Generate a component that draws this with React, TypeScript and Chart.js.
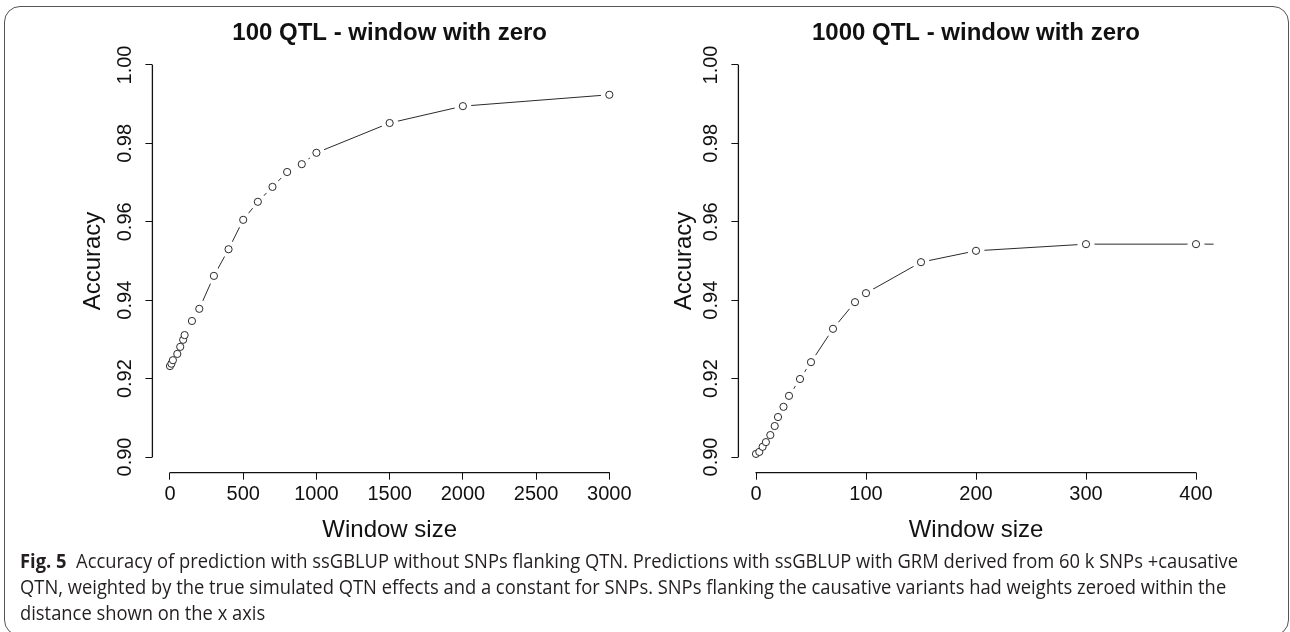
import React, { useEffect, useLayoutEffect, useRef, useState } from "react";
import { Chart, registerables } from "chart.js";

Chart.register(...registerables);

// ---------- data ----------
const LEFT_TITLE = "100 QTL - window with zero";
const RIGHT_TITLE = "1000 QTL - window with zero";
const X_LABEL = "Window size";
const Y_LABEL = "Accuracy";

const LEFT_WINDOW = [0, 10, 20, 50, 70, 90, 100, 150, 200, 300, 400, 500, 600, 700, 800, 900, 1000, 1500, 2000, 3000];
const LEFT_ACCURACY = [0.9232, 0.9238, 0.9247, 0.9263, 0.9281, 0.9299, 0.9311, 0.9347, 0.9378, 0.9462, 0.953, 0.9605, 0.9651, 0.9689, 0.9727, 0.9747, 0.9776, 0.9852, 0.9895, 0.9924];

const RIGHT_WINDOW = [0, 3, 6, 9, 13, 17, 20, 25, 30, 40, 50, 70, 90, 100, 150, 200, 300, 400, 500];
const RIGHT_ACCURACY = [0.9008, 0.9013, 0.9026, 0.9038, 0.9056, 0.9079, 0.9102, 0.9128, 0.9156, 0.9199, 0.9242, 0.9327, 0.9395, 0.9418, 0.9497, 0.9526, 0.9543, 0.9543, 0.9543];

const LEFT_X_TICKS = [0, 500, 1000, 1500, 2000, 2500, 3000];
const RIGHT_X_TICKS = [0, 100, 200, 300, 400];
const Y_TICKS = [0.9, 0.92, 0.94, 0.96, 0.98, 1.0];

const CAPTION_LABEL = "Fig. 5";
const CAPTION_LINES = [
  "Accuracy of prediction with ssGBLUP without SNPs flanking QTN. Predictions with ssGBLUP with GRM derived from 60 k SNPs +causative",
  "QTN, weighted by the true simulated QTN effects and a constant for SNPs. SNPs flanking the causative variants had weights zeroed within the",
  "distance shown on the x axis",
];

// ---------- style ----------
const FONT = "'Liberation Sans', Arial, Helvetica, sans-serif";
const INK = "#111";

// R-style 4% axis extension
const ext = (t: number[]) => {
  const lo = t[0];
  const hi = t[t.length - 1];
  const d = (hi - lo) * 0.04;
  return [lo - d, hi + d];
};

const rAxisLines = {
  id: "rAxisLines",
  afterDraw(chart: any) {
    const { ctx, chartArea, scales } = chart;
    const xs = scales.x;
    const ys = scales.y;
    const xt = xs.ticks;
    const yt = ys.ticks;
    ctx.save();
    ctx.strokeStyle = INK;
    ctx.lineWidth = 1.3;
    ctx.beginPath();
    ctx.moveTo(xs.getPixelForValue(xt[0].value) - 0.5, chartArea.bottom);
    ctx.lineTo(xs.getPixelForValue(xt[xt.length - 1].value) + 0.5, chartArea.bottom);
    ctx.moveTo(chartArea.left, ys.getPixelForValue(yt[0].value) + 0.5);
    ctx.lineTo(chartArea.left, ys.getPixelForValue(yt[yt.length - 1].value) - 0.5);
    ctx.stroke();
    ctx.restore();
  },
};

type PanelProps = {
  title: string;
  xs: number[];
  ys: number[];
  xTicks: number[];
  left: number;
  width: number;
  height: number;
  areaLeft: number;
  areaRight: number;
  yTitleCenter: number;
};

function Panel(p: PanelProps) {
  const ref = useRef<HTMLCanvasElement>(null);
  useEffect(() => {
    if (!ref.current) return;
    const pts = p.xs.map((x, i) => ({ x, y: p.ys[i] }));
    const [xmin, xmax] = ext(p.xTicks);
    const [ymin, ymax] = ext(Y_TICKS);
    const areaBottom = 472.7;
    const chart = new Chart(ref.current, {
      type: "line",
      data: {
        datasets: [
          { data: pts, borderColor: "#2a2a2a", borderWidth: 1, pointRadius: 0, fill: false, tension: 0, order: 3 },
          { data: pts, showLine: false, pointRadius: 8.5, pointBackgroundColor: "#fff", pointBorderColor: "#fff", pointBorderWidth: 0, order: 2 },
          { data: pts, showLine: false, pointRadius: 3.6, pointBackgroundColor: "#fff", pointBorderColor: "#2a2a2a", pointBorderWidth: 1, order: 1 },
        ],
      } as any,
      options: {
        animation: false,
        responsive: false,
        maintainAspectRatio: false,
        events: [],
        layout: { padding: { left: 0, right: p.width - p.areaRight, top: 0, bottom: 0 } },
        plugins: {
          legend: { display: false },
          tooltip: { enabled: false },
          title: {
            display: true,
            fullSize: false,
            text: p.title,
            color: INK,
            font: { family: FONT, size: 24, weight: "bold" },
            padding: { top: 18.6, bottom: 1.9 },
          },
        },
        scales: {
          x: {
            type: "linear",
            min: xmin,
            max: xmax,
            afterBuildTicks: (s: any) => {
              s.ticks = p.xTicks.map((v) => ({ value: v }));
            },
            afterFit: (s: any) => {
              s.height = p.height - areaBottom;
            },
            grid: { display: true, drawOnChartArea: false, drawTicks: true, tickLength: 7, color: INK, lineWidth: 1 },
            border: { display: false },
            ticks: {
              color: INK,
              font: { family: FONT, size: 20 },
              padding: 3,
              maxRotation: 0,
              autoSkip: false,
              callback: (v: any) => String(v),
            },
            title: {
              display: true,
              text: X_LABEL,
              color: INK,
              font: { family: FONT, size: 24 },
              padding: { top: 0, bottom: 15.6 },
            },
          },
          y: {
            type: "linear",
            min: ymin,
            max: ymax,
            afterBuildTicks: (s: any) => {
              s.ticks = Y_TICKS.map((v) => ({ value: v }));
            },
            afterFit: (s: any) => {
              s.width = p.areaLeft;
            },
            grid: { display: true, drawOnChartArea: false, drawTicks: true, tickLength: 7, color: INK, lineWidth: 1 },
            border: { display: false },
            ticks: {
              color: INK,
              font: { family: FONT, size: 20 },
              padding: 0,
              minRotation: 90,
              maxRotation: 90,
              crossAlign: "center",
              autoSkip: false,
              callback: (v: any) => Number(v).toFixed(2),
            },
            title: {
              display: true,
              text: Y_LABEL,
              color: INK,
              font: { family: FONT, size: 24 },
              padding: { top: p.yTitleCenter - 14.4, bottom: 0 },
            },
          },
        },
      } as any,
      plugins: [rAxisLines],
    });
    return () => chart.destroy();
  }, []);
  return (
    <canvas
      ref={ref}
      width={p.width}
      height={p.height}
      style={{ position: "absolute", left: p.left, top: 0, width: p.width, height: p.height }}
    />
  );
}

function Caption() {
  const ref = useRef<HTMLDivElement>(null);
  const [scale, setScale] = useState(1);
  const TARGET = 1218;
  useLayoutEffect(() => {
    const el = ref.current?.querySelector("[data-first]") as HTMLElement | null;
    if (el) {
      const w = el.getBoundingClientRect().width;
      if (w > 0) setScale(TARGET / w);
    }
  }, []);
  return (
    <div
      ref={ref}
      style={{
        position: "absolute",
        left: 20,
        top: 548,
        fontFamily: "'Open Sans', 'Noto Sans', sans-serif",
        fontSize: 19.5,
        lineHeight: "26px",
        color: "#231f20",
        whiteSpace: "nowrap",
        transform: `scaleX(${scale})`,
        transformOrigin: "0 0",
      }}
    >
      <div>
        <span data-first="1">
          <b>{CAPTION_LABEL}</b>
          {"\u00a0\u00a0"}
          {CAPTION_LINES[0]}
        </span>
      </div>
      <div>{CAPTION_LINES[1]}</div>
      <div>{CAPTION_LINES[2]}</div>
    </div>
  );
}

export default function App() {
  return (
    <div style={{ position: "absolute", left: 0, top: 0, width: 1290, height: 632, overflow: "hidden", background: "#fff" }}>
      <div
        style={{
          position: "absolute",
          left: 4,
          top: 6,
          width: 1285,
          height: 630,
          boxSizing: "border-box",
          border: "1.5px solid #555",
          borderRadius: 16,
        }}
      />
      <Panel
        title={LEFT_TITLE}
        xs={LEFT_WINDOW}
        ys={LEFT_ACCURACY}
        xTicks={LEFT_X_TICKS}
        left={0}
        width={645}
        height={560}
        areaLeft={152.4}
        areaRight={626.9}
        yTitleCenter={93}
      />
      <Panel
        title={RIGHT_TITLE}
        xs={RIGHT_WINDOW}
        ys={RIGHT_ACCURACY}
        xTicks={RIGHT_X_TICKS}
        left={645}
        width={645}
        height={560}
        areaLeft={93.4}
        areaRight={568.6}
        yTitleCenter={39.4}
      />
      <Caption />
    </div>
  );
}
